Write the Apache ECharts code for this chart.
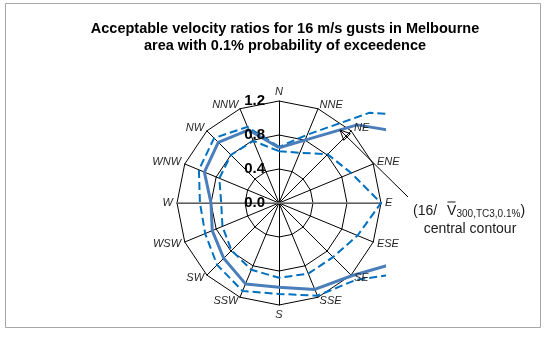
<!DOCTYPE html>
<html><head><meta charset="utf-8">
<script src="https://cdn.jsdelivr.net/npm/echarts@6/dist/echarts.min.js"></script>
<style>html,body{margin:0;padding:0;background:#fff}#c{width:547px;height:358px}</style>
</head><body><div id="c"></div>
<script>
// Directions listed clockwise from North
const directions = ['N','NNE','NE','ENE','E','ESE','SE','SSE','S','SSW','SW','WSW','W','WNW','NW','NNW'];
const radialTicks = [0.0, 0.4, 0.8, 1.2];
// Central contour (solid) and bounds (dashed), clockwise from N
const centralContour = [0.65,0.80,1.30,2.00,2.00,1.70,1.21,1.10,0.99,1.03,0.92,0.85,0.80,0.95,1.01,0.93];
const upperBound     = [0.66,0.87,1.50,2.60,2.50,2.00,1.28,1.18,1.07,1.12,1.03,0.94,0.93,1.02,1.08,0.97];
const lowerBound     = [0.61,0.64,0.81,0.92,1.20,1.00,0.90,0.90,0.88,0.85,0.79,0.72,0.68,0.76,0.80,0.79];
const titleLines = ['Acceptable velocity ratios for 16 m/s gusts in Melbourne', 'area with 0.1% probability of exceedence'];
const annotationMain = '(16/';
const annotationV = 'V';
const annotationSub = '300,TC3,0.1%';
const annotationLine2 = 'central contour';

const FONT = 'Liberation Sans, Arial, sans-serif';
// ECharts radar runs counter-clockwise; reorder clockwise lists
const ccw = arr => [arr[0]].concat(arr.slice(1).reverse());
const tMin = radialTicks[0], tMax = radialTicks[radialTicks.length - 1];
const indicators = ccw(directions).map(n => ({ name: n, min: tMin, max: tMax }));
const center = [279, 203], radius = 102;

// arrow geometry (annotation)
const tip = [340, 130], tail = [408, 197];
const d = [tail[0] - tip[0], tail[1] - tip[1]];
const L = Math.hypot(d[0], d[1]);
const u = [d[0] / L, d[1] / L];
const rot = (v, a) => [v[0] * Math.cos(a) - v[1] * Math.sin(a), v[0] * Math.sin(a) + v[1] * Math.cos(a)];
const w1 = rot(u, 0.44), w2 = rot(u, -0.44);
const hl = 11;

const chart = echarts.init(document.getElementById('c'), null, { renderer: 'canvas' });
chart.setOption({
  animation: false,
  backgroundColor: '#fff',
  title: {
    text: titleLines.join('\n'), left: 285, top: 20, textAlign: 'center', padding: 0,
    textStyle: { fontFamily: FONT, fontWeight: 'bold', fontSize: 14.5, lineHeight: 17, color: '#000' }
  },
  radar: [
    {
      center: center, radius: radius, startAngle: 90, shape: 'polygon',
      splitNumber: radialTicks.length - 1, indicator: indicators,
      axisName: { show: false },
      axisLine: { lineStyle: { color: '#000', width: 1 } },
      splitLine: { lineStyle: { color: '#000', width: 1 } },
      splitArea: { show: false }, z: 0
    },
    {
      center: center, radius: radius, startAngle: 0, shape: 'polygon', splitNumber: 1,
      indicator: [{ name: 'E', min: tMin, max: tMax }, { name: 'W', min: tMin, max: tMax }],
      axisName: { show: false },
      axisLine: { lineStyle: { color: '#808080', width: 1.5 } },
      splitLine: { show: false }, splitArea: { show: false }, z: 1
    },
    {
      center: center, radius: radius, startAngle: 90, shape: 'polygon',
      splitNumber: radialTicks.length - 1,
      indicator: indicators.map((ind, i) => i === 0 ? Object.assign({}, ind, { axisLabel: { show: true } }) : ind),
      axisName: { show: true, color: '#262626', fontStyle: 'italic', fontSize: 11, fontFamily: FONT },
      nameGap: 4,
      axisLine: { show: false }, splitLine: { show: false }, splitArea: { show: false },
      axisLabel: { show: false, color: '#000', fontWeight: 'bold', fontSize: 15, fontFamily: FONT, margin: 14,
        formatter: v => (+v).toFixed(1) },
      z: 10
    }
  ],
  series: [{
    type: 'radar', radarIndex: 0, symbol: 'none', z: 2, silent: true,
    data: [
      { value: ccw(upperBound), lineStyle: { color: '#0070C0', width: 2, type: [8, 4] } },
      { value: ccw(lowerBound), lineStyle: { color: '#0070C0', width: 2, type: [8, 4] } },
      { value: ccw(centralContour), lineStyle: { color: '#4A7EBB', width: 3 } }
    ]
  }],
  graphic: [
    { type: 'rect', z: -1, silent: true, shape: { x: 5.5, y: 3.5, width: 535, height: 324 },
      style: { fill: 'none', stroke: '#a6a6a6', lineWidth: 1 } },
    { type: 'rect', z: 5, silent: true, shape: { x: 386, y: 90, width: 150, height: 220 },
      style: { fill: '#fff' } },
    { type: 'line', z: 20, silent: true, shape: { x1: tip[0], y1: tip[1], x2: tail[0], y2: tail[1] },
      style: { stroke: '#000', lineWidth: 1 } },
    { type: 'polygon', z: 20, silent: true,
      shape: { points: [tip, [tip[0] + hl * w1[0], tip[1] + hl * w1[1]], [tip[0] + hl * w2[0], tip[1] + hl * w2[1]]] },
      style: { fill: 'none', stroke: '#000', lineWidth: 1 } },
    { type: 'text', z: 20, silent: true, x: 413, y: 203,
      style: {
        text: '{a|' + annotationMain + '}{v|' + annotationV + '}{s|' + annotationSub + '}{a|)}',
        verticalAlign: 'top',
        rich: {
          a: { fontFamily: FONT, fontSize: 14, lineHeight: 16, fill: '#1a1a1a' },
          v: { fontFamily: FONT, fontSize: 14, lineHeight: 16, fill: '#1a1a1a', padding: [0, 0, 0, 10] },
          s: { fontFamily: FONT, fontSize: 10, lineHeight: 12, fill: '#1a1a1a', verticalAlign: 'bottom' }
        }
      } },
    { type: 'line', z: 20, silent: true, shape: { x1: 447.5, y1: 202, x2: 455.5, y2: 202 },
      style: { stroke: '#1a1a1a', lineWidth: 1 } },
    { type: 'text', z: 20, silent: true, x: 470, y: 229,
      style: { text: annotationLine2, fontFamily: FONT, fontSize: 14, fill: '#1a1a1a', align: 'center', verticalAlign: 'middle' } }
  ]
});
</script>
</body></html>
